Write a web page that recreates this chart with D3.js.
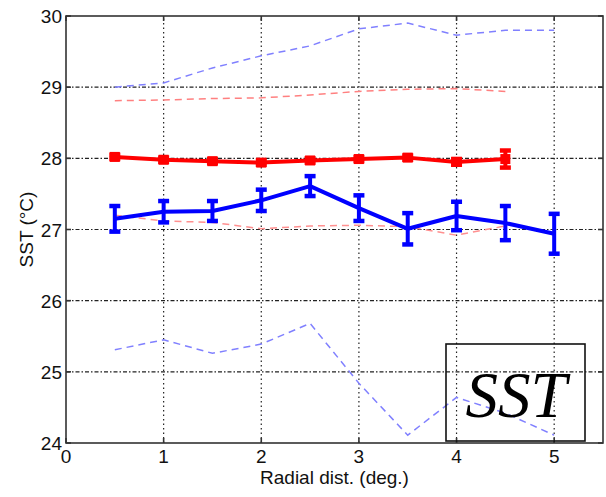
<!DOCTYPE html>
<html><head><meta charset="utf-8">
<script src="https://cdn.jsdelivr.net/npm/d3@7"></script>
<style>body{margin:0;background:#fff}svg{display:block}</style>
</head><body>
<script>
const xTicks = [0,1,2,3,4,5];
const yTicks = [24,25,26,27,28,29,30];
const redX = [0.5,1,1.5,2,2.5,3,3.5,4,4.5];
const redMean = [28.02,27.98,27.96,27.94,27.97,27.99,28.01,27.95,27.99];
const redErr = [0.03,0.03,0.03,0.03,0.03,0.03,0.03,0.04,0.12];
const redUpper = [28.81,28.82,28.84,28.85,28.89,28.94,28.97,28.98,28.94];
const redLower = [27.2,27.12,27.10,27.01,27.05,27.06,27.04,26.92,27.05];
const blueX = [0.5,1,1.5,2,2.5,3,3.5,4,4.5,5];
const blueMean = [27.15,27.25,27.26,27.41,27.61,27.30,27.01,27.19,27.09,26.94];
const blueErr = [0.18,0.15,0.14,0.15,0.14,0.18,0.22,0.20,0.24,0.28];
const blueUpper = [29.0,29.06,29.27,29.44,29.58,29.82,29.9,29.73,29.8,29.8];
const blueLower = [25.31,25.45,25.26,25.39,25.68,24.84,24.11,24.64,24.42,24.11];
const xLabel = "Radial dist. (deg.)";
const yLabel = "SST (°C)";
const boxText = "SST";

const W = 606, H = 497;
const m = {l:66, t:16, r:3, b:54};
const svg = d3.select("body").append("svg").attr("width",W).attr("height",H);
const x = d3.scaleLinear().domain([0,5.5]).range([m.l, W-m.r]);
const y = d3.scaleLinear().domain([24,30]).range([H-m.b, m.t]);
const font = "'Liberation Sans', Arial, sans-serif";

// grid
const g = svg.append("g");
g.selectAll(".vg").data(xTicks.filter(d=>d>0)).join("line")
  .attr("x1",d=>x(d)).attr("x2",d=>x(d)).attr("y1",y(24)).attr("y2",y(30))
  .attr("stroke","#222").attr("stroke-width",1.2).attr("stroke-dasharray","1.5,3");
g.selectAll(".hg").data(yTicks.filter(d=>d>24&&d<30)).join("line")
  .attr("x1",x(0)).attr("x2",x(5.5)).attr("y1",d=>y(d)).attr("y2",d=>y(d))
  .attr("stroke","#222").attr("stroke-width",1.2).attr("stroke-dasharray","4,2,1.5,2");

// dashed envelopes
const line = (xs) => d3.line().x((d,i)=>x(xs[i])).y(d=>y(d));
const dashed = [
  [redX, redUpper, "#ff8080"], [redX, redLower, "#ff9090"],
  [blueX, blueUpper, "#8080ff"], [blueX, blueLower, "#8080ff"]
];
dashed.forEach(([xs, ys, c]) => {
  svg.append("path").attr("d", line(xs)(ys)).attr("fill","none")
    .attr("stroke",c).attr("stroke-width",1.5).attr("stroke-dasharray","7,5");
});

// error bar series
function series(xs, mean, err, color, markers) {
  const gg = svg.append("g");
  gg.append("path").attr("d", line(xs)(mean)).attr("fill","none")
    .attr("stroke",color).attr("stroke-width",4).attr("stroke-linejoin","round");
  xs.forEach((xv,i)=>{
    const x0 = x(xv), y1 = y(mean[i]+err[i]), y2 = y(mean[i]-err[i]);
    gg.append("line").attr("x1",x0).attr("x2",x0).attr("y1",y1).attr("y2",y2)
      .attr("stroke",color).attr("stroke-width",4);
    [y1,y2].forEach(yy=>gg.append("line").attr("x1",x0-5.5).attr("x2",x0+5.5)
      .attr("y1",yy).attr("y2",yy).attr("stroke",color).attr("stroke-width",4.5));
  });
  if (markers) {
    gg.selectAll("rect").data(mean).join("rect")
      .attr("x",(d,i)=>x(xs[i])-5).attr("y",d=>y(d)-5).attr("width",10).attr("height",10)
      .attr("fill",color);
  }
}
series(redX, redMean, redErr, "#ff0000", true);
series(blueX, blueMean, blueErr, "#0000ff", false);

// axes box and ticks
const ax = svg.append("g").attr("stroke","#333").attr("stroke-width",1.6);
ax.append("rect").attr("x",x(0)).attr("y",y(30)).attr("width",x(5.5)-x(0)).attr("height",y(24)-y(30))
  .attr("fill","none");
xTicks.forEach(d=>{
  ax.append("line").attr("x1",x(d)).attr("x2",x(d)).attr("y1",y(24)).attr("y2",y(24)-5);
  ax.append("line").attr("x1",x(d)).attr("x2",x(d)).attr("y1",y(30)).attr("y2",y(30)+5);
});
yTicks.forEach(d=>{
  ax.append("line").attr("x1",x(0)).attr("x2",x(0)+5).attr("y1",y(d)).attr("y2",y(d));
  ax.append("line").attr("x1",x(5.5)).attr("x2",x(5.5)-5).attr("y1",y(d)).attr("y2",y(d));
});

// tick labels
svg.selectAll(".xt").data(xTicks).join("text")
  .attr("x",d=>x(d)).attr("y",y(24)+20).attr("text-anchor","middle")
  .attr("font-family",font).attr("font-size",19).attr("fill","#111").text(d=>d);
svg.selectAll(".yt").data(yTicks).join("text")
  .attr("x",x(0)-4).attr("y",d=>y(d)+7).attr("text-anchor","end")
  .attr("font-family",font).attr("font-size",19).attr("fill","#111").text(d=>d);

svg.append("text").attr("x",(x(0)+x(5.5))/2).attr("y",484).attr("text-anchor","middle")
  .attr("font-family",font).attr("font-size",19).attr("fill","#111").text(xLabel);
svg.append("text").attr("transform",`translate(33,${(y(24)+y(30))/2}) rotate(-90)`)
  .attr("text-anchor","middle").attr("font-family",font).attr("font-size",19).attr("fill","#111").text(yLabel);

// SST box
svg.append("rect").attr("x",446).attr("y",344).attr("width",139).attr("height",97)
  .attr("fill","none").attr("stroke","#111").attr("stroke-width",1.6);
svg.append("text").attr("x",516).attr("y",417).attr("text-anchor","middle")
  .attr("font-family","'Liberation Serif','Times New Roman',serif").attr("font-style","italic")
  .attr("font-size",65).attr("fill","#000").text(boxText);
</script>
</body></html>
